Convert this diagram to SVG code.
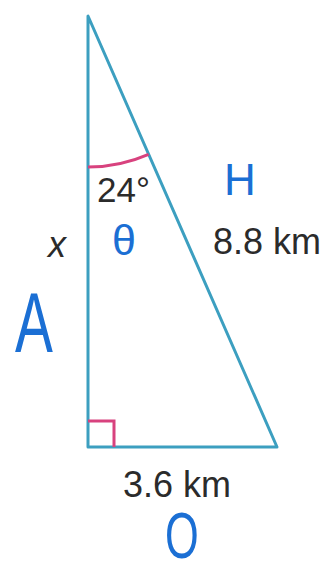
<svg xmlns="http://www.w3.org/2000/svg" width="331" height="573" viewBox="0 0 331 573">
<style>
.edge{fill:none;stroke:#3c9fc0;stroke-width:3;stroke-linejoin:round;stroke-linecap:round}
.mark{fill:none;stroke:#d8427e;stroke-width:3}
.lbl{font-family:"Liberation Sans",Arial,sans-serif;fill:#2b2b2b}
.hand{font-family:"Liberation Sans",Arial,sans-serif;fill:#1b6fd4}
</style>
<rect width="331" height="573" fill="#ffffff"/>
<g id="triangle">
<polygon class="edge" points="88,16 88,447 277,447"/>
</g>
<g id="marks">
<path class="mark" d="M88,167 A151,151 0 0 0 148.6,154.3"/>
<path class="mark" d="M88,421 H114 V447"/>
</g>
<g id="labels">
<text class="lbl" x="97" y="202" font-size="35">24°</text>
<text class="lbl" x="57" y="257" font-size="36" font-style="italic" text-anchor="middle">x</text>
<text class="lbl" x="213" y="254" font-size="36">8.8 km</text>
<text class="lbl" x="123" y="497" font-size="36">3.6 km</text>
</g>
<g id="annotations">
<text class="hand" x="240" y="195" font-size="44" text-anchor="middle">H</text>
<text class="hand" x="124" y="255" font-size="43" text-anchor="middle">θ</text>
<text class="hand" transform="translate(34,352) scale(0.66,1)" font-size="86" text-anchor="middle">A</text>
<text class="hand" transform="translate(182,558) scale(0.7,1.05)" font-size="62" text-anchor="middle">O</text>
</g>
</svg>
